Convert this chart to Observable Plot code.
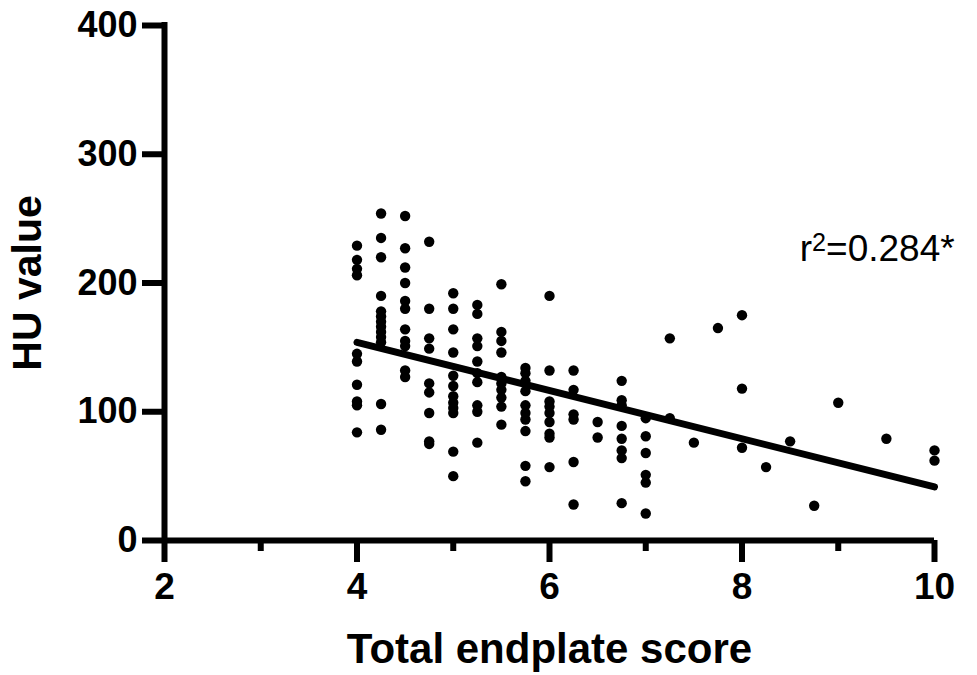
<!DOCTYPE html>
<html>
<head>
<meta charset="utf-8">
<script src="https://cdn.jsdelivr.net/npm/d3@7"></script>
<script src="https://cdn.jsdelivr.net/npm/@observablehq/plot@0.6"></script>
<style>
  html, body { margin: 0; padding: 0; background: white; }
</style>
</head>
<body>
<div id="chart"></div>
<script>
// Total endplate score (x) and HU value (y)
const score = [
  4,4,4,4,4,4,4,4,4,4,
  4.25,4.25,4.25,4.25,4.25,4.25,4.25,4.25,4.25,4.25,4.25,4.25,4.25,
  4.5,4.5,4.5,4.5,4.5,4.5,4.5,4.5,4.5,4.5,4.5,
  4.75,4.75,4.75,4.75,4.75,4.75,4.75,4.75,4.75,
  5,5,5,5,5,5,5,5,5,5,5,5,
  5.25,5.25,5.25,5.25,5.25,5.25,5.25,5.25,5.25,5.25,
  5.5,5.5,5.5,5.5,5.5,5.5,5.5,5.5,5.5,5.5,
  5.75,5.75,5.75,5.75,5.75,5.75,5.75,5.75,5.75,5.75,
  6,6,6,6,6,6,6,6,6,
  6.25,6.25,6.25,6.25,6.25,6.25,
  6.5,6.5,
  6.75,6.75,6.75,6.75,6.75,6.75,6.75,6.75,
  7,7,7,7,7,7,
  7.25,7.25,
  7.5,
  7.75,
  8,8,8,
  8.25,
  8.5,
  8.75,
  9,
  9.5,
  10,10
];
const hu = [
  229,218,211,206,145,139,121,108,105,84,
  254,235,220,190,178,174,170,166,162,158,154,106,86,
  252,227,212,200,186,180,164,155,151,132,127,
  232,180,157,149,122,115,99,77,75,
  192,180,164,146,128,120,112,107,103,99,69,50,
  183,176,157,151,139,130,123,105,100,76,
  199,162,155,146,127,122,117,111,104,90,
  134,130,124,116,105,99,94,85,58,46,
  190,132,108,104,99,92,83,80,57,
  132,117,98,94,61,28,
  92,80,
  124,109,105,89,79,70,64,29,
  95,81,68,51,45,21,
  157,95,
  76,
  165,
  175,118,72,
  57,
  77,
  27,
  107,
  79,
  70,62
];
// Fitted regression line (end points)
const fitScore = [4, 10];
const fitHU = [153.9, 41.6];

const xMajorTicks = [2, 4, 6, 8, 10];
const xMinorTicks = [3, 5, 7, 9];
const yTicks = [0, 100, 200, 300, 400];

const xTitle = "Total endplate score";
const yTitle = "HU value";
const annotation = { x: 8.6, y: 217, text: "r2=0.284*" };

const points = score.map((s, i) => ({ score: s, hu: hu[i] }));
const fit = fitScore.map((s, i) => ({ score: s, hu: fitHU[i] }));

const font = "'Liberation Sans', Arial, Helvetica, sans-serif";

const chart = Plot.plot({
  width: 977,
  height: 675,
  marginLeft: 164,
  marginRight: 43,
  marginTop: 25,
  marginBottom: 135,
  x: { domain: [2, 10] },
  y: { domain: [0, 400] },
  style: { fontFamily: font, background: "white", color: "black", overflow: "visible" },
  marks: [
    // axis lines
    Plot.ruleY([0], { x1: 2, x2: 10, stroke: "black", strokeWidth: 6 }),
    Plot.ruleX([2], { y1: 0, y2: 400, stroke: "black", strokeWidth: 6, strokeLinecap: "square" }),
    // y axis ticks and labels
    Plot.axisY({
      ticks: yTicks, tickSize: 22, tickPadding: 5, strokeWidth: 6,
      fontSize: 36, fontWeight: "bold", label: null, tickFormat: d => d
    }),
    // x axis major ticks and labels
    Plot.axisX({
      ticks: xMajorTicks, tickSize: 22, tickPadding: 10, strokeWidth: 6,
      fontSize: 37, fontWeight: "bold", label: null, tickFormat: d => d
    }),
    // x axis minor ticks
    Plot.axisX({
      ticks: xMinorTicks, tickSize: 11, strokeWidth: 6, label: null, tickFormat: () => ""
    }),
    // points
    Plot.dot(points, { x: "score", y: "hu", r: 5.2, fill: "black", stroke: "none" }),
    // regression line
    Plot.line(fit, { x: "score", y: "hu", stroke: "black", strokeWidth: 7 }),
    // annotation
    Plot.text([annotation], {
      x: "x", y: "y", text: "text", textAnchor: "start", lineAnchor: "bottom",
      fontSize: 37, fill: "black", className: "r2-label"
    }),
    // axis titles
    Plot.text([xTitle], {
      frameAnchor: "bottom", textAnchor: "middle", dy: 122, lineAnchor: "bottom",
      fontSize: 42, fontWeight: "bold", fill: "black"
    }),
    Plot.text([yTitle], {
      frameAnchor: "left", textAnchor: "middle", dx: -124, rotate: -90, lineAnchor: "bottom",
      fontSize: 41, fontWeight: "bold", fill: "black"
    })
  ]
});

// render superscript in the r² annotation
d3.select(chart).selectAll(".r2-label text").each(function () {
  const t = d3.select(this);
  const txt = t.text();
  t.text("");
  t.append("tspan").text(txt.slice(0, 1));
  t.append("tspan").attr("dy", "-0.42em").attr("font-size", "0.68em").text(txt.slice(1, 2));
  t.append("tspan").attr("dy", "0.286em").text(txt.slice(2));
});

document.getElementById("chart").appendChild(chart);
</script>
</body>
</html>
